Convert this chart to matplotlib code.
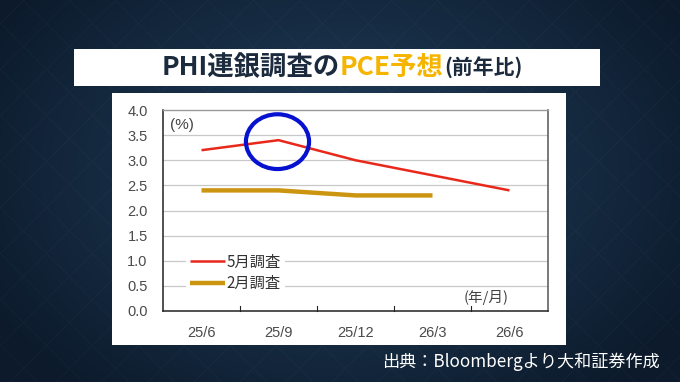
import numpy as np
import matplotlib
matplotlib.use("Agg")
import matplotlib.pyplot as plt
from matplotlib.patches import Rectangle, Ellipse

plt.rcParams['font.family'] = ['Noto Sans CJK JP', 'DejaVu Sans']

# ---- data ----
categories = ["25/6", "25/9", "25/12", "26/3", "26/6"]
may_survey = [3.2, 3.4, 3.0, 2.7, 2.4]
feb_survey = [2.4, 2.4, 2.3, 2.3]
series_labels = ["5月調査", "2月調査"]
yticks = [0.0, 0.5, 1.0, 1.5, 2.0, 2.5, 3.0, 3.5, 4.0]

W, H = 680, 382
fig = plt.figure(figsize=(W / 100, H / 100), dpi=100)

# ---- background gradient ----
bg = fig.add_axes([0, 0, 1, 1])
yy, xx = np.mgrid[0:H, 0:W]
r = np.sqrt(((xx - W * 0.5) / (W * 0.6)) ** 2 + ((yy - H * 0.45) / (H * 0.75)) ** 2)
r = np.clip(r, 0, 1)
c0 = np.array([0x22, 0x40, 0x5e]) / 255
c1 = np.array([0x0c, 0x1a, 0x2b]) / 255
img = c0[None, None, :] * (1 - r[..., None]) + c1[None, None, :] * r[..., None]
pat = (np.abs(((xx + yy) % 46) - 23) < 0.8) | (np.abs(((xx - yy) % 46) - 23) < 0.8)
img = img + pat[..., None] * 0.025
bg.imshow(np.clip(img, 0, 1), extent=[0, W, 0, H], aspect='auto', origin='upper')
bg.set_xlim(0, W)
bg.set_ylim(0, H)
bg.axis('off')

bg.add_patch(Rectangle((74, H - 86), 526, 37, facecolor='white', edgecolor='none'))
bg.add_patch(Rectangle((112, H - 345), 454, 252, facecolor='white', edgecolor='none'))

dark = '#1b2a3d'
gold = '#f5b400'
pieces = [("PHI連銀調査の", dark, 19), ("PCE予想", gold, 19), ("(前年比)", dark, 15)]
fig.canvas.draw()
renderer = fig.canvas.get_renderer()
texts = []
for s, col, fs in pieces:
    t = bg.text(0, H - 75, s, color=col, fontsize=fs, fontweight='bold',
                ha='left', va='baseline')
    texts.append(t)
widths = [t.get_window_extent(renderer).width for t in texts]
total = sum(widths)
x = 342 - total / 2
for t, w in zip(texts, widths):
    t.set_x(x)
    x += w

bg.text(660, H - 362, "出典：Bloombergより大和証券作成", color='white', fontsize=12.3,
        ha='right', va='center')

# ---- chart ----
ax = fig.add_axes([163 / W, 1 - 311 / H, 385 / W, 201 / H])
ax.set_facecolor('white')
x_idx = np.arange(len(categories))
for yv in yticks[1:-1]:
    ax.axhline(yv, color='#c8c8c8', lw=0.9, zorder=1)

l1, = ax.plot(x_idx, may_survey, color='#e8281a', lw=1.8, zorder=3, solid_capstyle='butt')
l2, = ax.plot(x_idx[:len(feb_survey)], feb_survey, color='#cc9510', lw=3.2, zorder=3,
              solid_capstyle='butt')

ax.set_xlim(-0.5, len(categories) - 0.5)
ax.set_ylim(0, 4.0)
ax.set_yticks(yticks)
ax.set_yticklabels([f"{v:.1f}" for v in yticks], family=['Liberation Sans'],
                   fontsize=10.5, color='#4a4a4a')
ax.set_xticks(x_idx)
ax.set_xticklabels(categories, family=['Liberation Sans'], fontsize=10.5, color='#4a4a4a')
ax.tick_params(axis='y', length=0, pad=11)
ax.tick_params(axis='x', length=0, pad=11)
for xb in np.arange(0.5, len(categories) - 1, 1.0):
    ax.plot([xb, xb], [0, 0.09], color='#222222', lw=0.8, zorder=4, clip_on=False)

for side in ['left', 'bottom']:
    ax.spines[side].set_color('#222222')
    ax.spines[side].set_linewidth(1.1)
ax.spines['top'].set_color('#999999')
ax.spines['top'].set_linewidth(1.0)
ax.spines['right'].set_color('#555555')
ax.spines['right'].set_linewidth(1.1)

leg = ax.legend([l1, l2], series_labels, loc='lower left', bbox_to_anchor=(0.06, 0.075),
                frameon=True, fancybox=False, framealpha=1, edgecolor='none',
                facecolor='white', fontsize=11, handlelength=2.3, handletextpad=0.1,
                labelspacing=0.3, borderpad=0.25, borderaxespad=0)
leg.set_zorder(5)
for txt in leg.get_texts():
    txt.set_color('#333333')

ax.text(0.018, 0.96, "(%)", transform=ax.transAxes, fontsize=11, color='#444444',
        family=['Liberation Sans', 'Noto Sans CJK JP'], ha='left', va='top')
ax.text(0.78, 0.03, "(年/月)", transform=ax.transAxes, fontsize=10.5, color='#444444',
        ha='left', va='bottom', zorder=5,
        bbox=dict(facecolor='white', edgecolor='none', pad=0.5))

ax.add_patch(Ellipse((0.987, 3.37), 0.82, 1.09, facecolor='none', edgecolor='#0612d0',
                     lw=3.0, zorder=6, clip_on=False))

fig.savefig("out.png", dpi=100)
